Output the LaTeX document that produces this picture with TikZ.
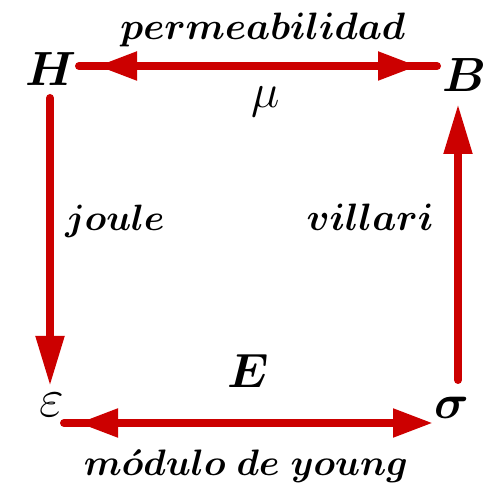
\documentclass[tikz,border=0pt]{standalone}
\usepackage{amsmath}
\usepackage{bm}
\usetikzlibrary{arrows.meta}
\definecolor{arrowred}{RGB}{204,0,0}
\begin{document}
\begin{tikzpicture}[x=0.5pt,y=-0.5pt,
  sym/.style={inner sep=0pt, font=\Huge, scale=0.965},
  lbl/.style={inner sep=0pt, font=\huge, scale=0.92},
  redline/.style={draw=arrowred, line width=4pt, line cap=round},
  redtip/.style={draw=arrowred, line width=4pt, line cap=round, arrows={-Triangle[length=25pt,width=13.5pt]}},
  redtips/.style={draw=arrowred, line width=4pt, arrows={Triangle[length=20pt,width=13.5pt]-Triangle[length=20pt,width=13.5pt]}}
]
\useasboundingbox (0,0) rectangle (504,502);
% symbols
\node[sym] (H) at (51,69) {$\bm{H}$};
\node[sym] (B) at (464,75) {$\bm{B}$};
\node[sym, scale=1.12] (eps) at (52,405) {$\varepsilon$};
\node[sym] (sig) at (452,408) {$\bm{\sigma}$};
% labels
\node[lbl, anchor=base] (perm) at (263,40) {$\bm{permeabilidad}$};
\node[sym, anchor=base] (mu) at (266,108) {$\mu$};
\node[lbl, anchor=base, scale=0.96] (joule) at (115,231) {$\bm{joule}$};
\node[lbl, anchor=base] (villari) at (370,231) {$\bm{villari}$};
\node[sym, anchor=base] (E) at (248,388) {$\bm{E}$};
\node[lbl, anchor=base, scale=0.965] (young) at (246,475) {$\bm{m\acute{o}dulo\ de\ young}$};
% connector end points
\coordinate (t1) at (79,66);
\coordinate (t2) at (437,66);
\coordinate (l1) at (50,98);
\coordinate (l2) at (50,386);
\coordinate (r1) at (458,380);
\coordinate (r2) at (458,104);
\coordinate (b1) at (64,423);
\coordinate (b2) at (433,423);
\coordinate (b2m) at (410,423);
% top: H <-> B
\draw[redline] (t1) -- (t2);
\draw[redtips, shorten <=9pt, shorten >=9.5pt] (t1) -- (t2);
% left: H -> eps
\draw[redtip] (l1) -- (l2);
% right: sig -> B
\draw[redtip] (r1) -- (r2);
% bottom: eps <-> sig
\draw[redline] (b1) -- (b2m);
\draw[redtips, shorten <=7pt] (b1) -- (b2);
\end{tikzpicture}
\end{document}
